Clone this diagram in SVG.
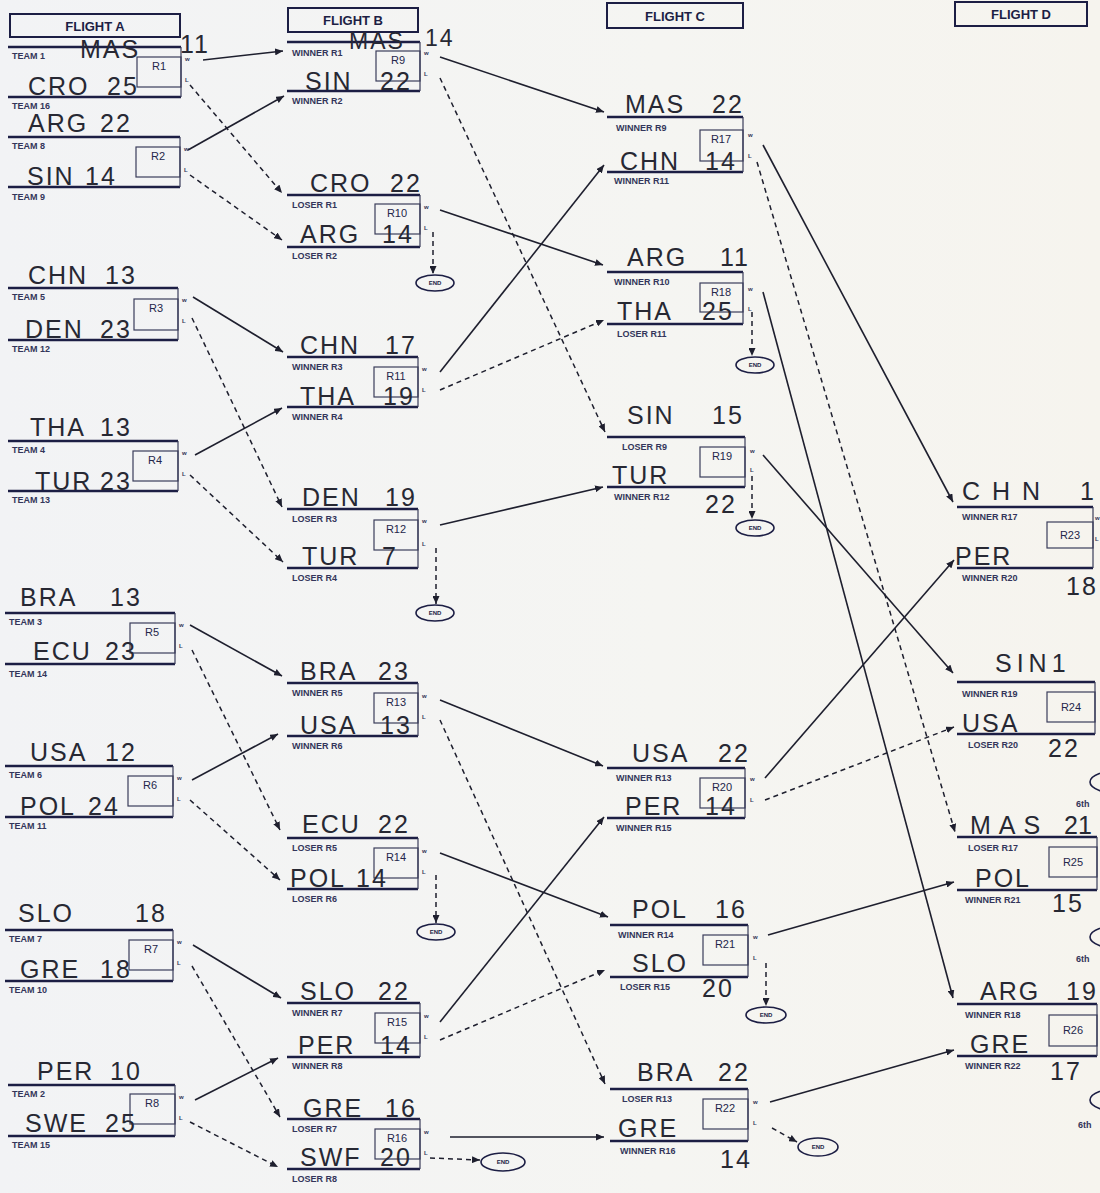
<svg xmlns="http://www.w3.org/2000/svg" width="1100" height="1193" viewBox="0 0 1100 1193">
<defs>
<linearGradient id="paper" x1="0" y1="0" x2="1" y2="0">
<stop offset="0" stop-color="#f2f3f5"/><stop offset="0.6" stop-color="#f5f5f2"/><stop offset="1" stop-color="#f6f4ee"/>
</linearGradient>
<marker id="ah" viewBox="0 0 8 7" refX="8" refY="3.5" markerWidth="8" markerHeight="7" markerUnits="userSpaceOnUse" orient="auto"><path d="M0,0 L8,3.5 L0,7 z" fill="#1e1f2e"/></marker>
<style>
.ln{stroke:#1c1e44;stroke-width:2.6}
.vr{stroke:#3a3c5a;stroke-width:1.2}
.bx{fill:none;stroke:#3a3c5a;stroke-width:1.2}
.hb{fill:none;stroke:#1c1e44;stroke-width:2}
.hdr{font-family:"Liberation Sans",Arial,sans-serif;font-weight:bold;font-size:13px;fill:#1c1e44;text-anchor:middle}
.rn{font-family:"Liberation Sans",Arial,sans-serif;font-size:11px;fill:#24264a;text-anchor:middle}
.lb{font-family:"Liberation Sans",Arial,sans-serif;font-weight:bold;font-size:9px;fill:#33355a}
.wl{font-family:"Liberation Sans",Arial,sans-serif;font-weight:bold;font-size:6px;fill:#33355a}
.hd{font-family:"Liberation Sans",Arial,sans-serif;font-size:25px;fill:#272833;letter-spacing:2px}
.six{font-family:"Liberation Sans",Arial,sans-serif;font-weight:bold;font-size:9px;fill:#33355a}
.end{fill:none;stroke:#1c1e44;stroke-width:1.6}
.et{font-family:"Liberation Sans",Arial,sans-serif;font-weight:bold;font-size:6px;fill:#1c1e44;text-anchor:middle}
.w{stroke:#1e1f2e;stroke-width:1.6;fill:none;marker-end:url(#ah)}
.l{stroke:#1e1f2e;stroke-width:1.5;fill:none;stroke-dasharray:5 4;marker-end:url(#ah)}
</style>
</defs>
<rect width="1100" height="1193" fill="url(#paper)"/>

<g id="headers">
<g id="flightA"><rect class="hb" x="10" y="14" width="170" height="23"/><text class="hdr" x="95" y="31">FLIGHT A</text></g>
<g id="flightB"><rect class="hb" x="288" y="8" width="130" height="24"/><text class="hdr" x="353" y="25">FLIGHT B</text></g>
<g id="flightC"><rect class="hb" x="607" y="3" width="136" height="25"/><text class="hdr" x="675" y="21">FLIGHT C</text></g>
<g id="flightD"><rect class="hb" x="955" y="2" width="132" height="24"/><text class="hdr" x="1021" y="19">FLIGHT D</text></g>
</g>

<g id="connectors">
<line class="w" x1="203" y1="60" x2="283" y2="51"/>
<line class="w" x1="188" y1="150" x2="284" y2="96"/>
<line class="w" x1="193" y1="297" x2="283" y2="352"/>
<line class="w" x1="195" y1="455" x2="282" y2="408"/>
<line class="w" x1="190" y1="625" x2="282" y2="676"/>
<line class="w" x1="192" y1="780" x2="278" y2="734"/>
<line class="w" x1="193" y1="945" x2="281" y2="998"/>
<line class="w" x1="195" y1="1100" x2="278" y2="1058"/>
<line class="w" x1="440" y1="57" x2="604" y2="112"/>
<line class="w" x1="440" y1="210" x2="603" y2="265"/>
<line class="w" x1="440" y1="372" x2="604" y2="165"/>
<line class="w" x1="440" y1="525" x2="603" y2="487"/>
<line class="w" x1="440" y1="700" x2="603" y2="766"/>
<line class="w" x1="440" y1="853" x2="608" y2="917"/>
<line class="w" x1="440" y1="1022" x2="604" y2="817"/>
<line class="w" x1="450" y1="1137" x2="604" y2="1137"/>
<line class="w" x1="763" y1="145" x2="953" y2="502"/>
<line class="w" x1="763" y1="292" x2="953" y2="998"/>
<line class="w" x1="763" y1="455" x2="953" y2="673"/>
<line class="w" x1="765" y1="778" x2="954" y2="560"/>
<line class="w" x1="768" y1="935" x2="954" y2="882"/>
<line class="w" x1="770" y1="1102" x2="954" y2="1050"/>
<line class="l" x1="190" y1="85" x2="282" y2="193"/>
<line class="l" x1="190" y1="175" x2="282" y2="240"/>
<line class="l" x1="192" y1="318" x2="282" y2="507"/>
<line class="l" x1="190" y1="475" x2="283" y2="562"/>
<line class="l" x1="192" y1="650" x2="280" y2="830"/>
<line class="l" x1="190" y1="800" x2="280" y2="880"/>
<line class="l" x1="192" y1="966" x2="280" y2="1117"/>
<line class="l" x1="190" y1="1122" x2="278" y2="1167"/>
<line class="l" x1="440" y1="78" x2="605" y2="432"/>
<line class="l" x1="440" y1="390" x2="604" y2="320"/>
<line class="l" x1="440" y1="720" x2="605" y2="1084"/>
<line class="l" x1="440" y1="1040" x2="605" y2="970"/>
<line class="l" x1="757" y1="162" x2="955" y2="832"/>
<line class="l" x1="765" y1="800" x2="954" y2="727"/>
<line class="l" x1="433" y1="232" x2="433" y2="274"/>
<line class="l" x1="436" y1="548" x2="436" y2="604"/>
<line class="l" x1="436" y1="875" x2="436" y2="923"/>
<line class="l" x1="430" y1="1158" x2="480" y2="1160"/>
<line class="l" x1="752" y1="312" x2="752" y2="356"/>
<line class="l" x1="752" y1="476" x2="752" y2="519"/>
<line class="l" x1="766" y1="963" x2="766" y2="1006"/>
<line class="l" x1="772" y1="1128" x2="797" y2="1142"/>
</g>

<g id="ends">
<g id="end10"><ellipse class="end" cx="435" cy="283" rx="19" ry="8"/><text class="et" x="435" y="285">END</text></g>
<g id="end12"><ellipse class="end" cx="435" cy="613" rx="19" ry="8"/><text class="et" x="435" y="615">END</text></g>
<g id="end14"><ellipse class="end" cx="436" cy="932" rx="19" ry="8"/><text class="et" x="436" y="934">END</text></g>
<g id="end16"><ellipse class="end" cx="503" cy="1162" rx="22" ry="9"/><text class="et" x="503" y="1164">END</text></g>
<g id="end18"><ellipse class="end" cx="755" cy="365" rx="19" ry="8"/><text class="et" x="755" y="367">END</text></g>
<g id="end19"><ellipse class="end" cx="755" cy="528" rx="19" ry="8"/><text class="et" x="755" y="530">END</text></g>
<g id="end21"><ellipse class="end" cx="766" cy="1015" rx="20" ry="8"/><text class="et" x="766" y="1017">END</text></g>
<g id="end22"><ellipse class="end" cx="818" cy="1147" rx="20" ry="9"/><text class="et" x="818" y="1149">END</text></g>
<g id="sixth1"><ellipse class="end" cx="1122" cy="782" rx="32" ry="12"/><text class="six" x="1076" y="807">6th</text></g>
<g id="sixth2"><ellipse class="end" cx="1122" cy="937" rx="32" ry="12"/><text class="six" x="1076" y="962">6th</text></g>
<g id="sixth3"><ellipse class="end" cx="1122" cy="1100" rx="32" ry="12"/><text class="six" x="1078" y="1128">6th</text></g>
</g>

<!-- FLIGHT A -->
<g id="R1">
<line class="ln" x1="8" y1="47" x2="181" y2="47"/><line class="ln" x1="8" y1="97" x2="181" y2="97"/><line class="vr" x1="181" y1="47" x2="181" y2="97"/>
<rect class="bx" x="137" y="57" width="44" height="30"/><text class="rn" x="159" y="70">R1</text>
<text class="lb" x="12" y="59">TEAM 1</text><text class="lb" x="12" y="109">TEAM 16</text>
<text class="wl" x="185" y="61">w</text><text class="wl" x="185" y="82">L</text>
<text class="hd" y="58"><tspan x="80">MAS</tspan><tspan x="180" y="53">11</tspan></text>
<text class="hd" y="95"><tspan x="28">CRO</tspan><tspan x="107">25</tspan></text>
</g>
<g id="R2">
<line class="ln" x1="8" y1="137" x2="180" y2="137"/><line class="ln" x1="8" y1="187" x2="180" y2="187"/><line class="vr" x1="180" y1="137" x2="180" y2="187"/>
<rect class="bx" x="136" y="147" width="44" height="30"/><text class="rn" x="158" y="160">R2</text>
<text class="lb" x="12" y="149">TEAM 8</text><text class="lb" x="12" y="200">TEAM 9</text>
<text class="wl" x="184" y="151">w</text><text class="wl" x="184" y="172">L</text>
<text class="hd" y="132"><tspan x="28">ARG</tspan><tspan x="100">22</tspan></text>
<text class="hd" y="185"><tspan x="27">SIN</tspan><tspan x="85">14</tspan></text>
</g>
<g id="R3">
<line class="ln" x1="8" y1="288" x2="178" y2="288"/><line class="ln" x1="8" y1="340" x2="178" y2="340"/><line class="vr" x1="178" y1="288" x2="178" y2="340"/>
<rect class="bx" x="134" y="299" width="44" height="31"/><text class="rn" x="156" y="312">R3</text>
<text class="lb" x="12" y="300">TEAM 5</text><text class="lb" x="12" y="352">TEAM 12</text>
<text class="wl" x="182" y="302">w</text><text class="wl" x="182" y="323">L</text>
<text class="hd" y="284"><tspan x="28">CHN</tspan><tspan x="105">13</tspan></text>
<text class="hd" y="338"><tspan x="25">DEN</tspan><tspan x="100">23</tspan></text>
</g>
<g id="R4">
<line class="ln" x1="8" y1="441" x2="178" y2="441"/><line class="ln" x1="8" y1="491" x2="178" y2="491"/><line class="vr" x1="178" y1="441" x2="178" y2="491"/>
<rect class="bx" x="133" y="451" width="45" height="30"/><text class="rn" x="155" y="464">R4</text>
<text class="lb" x="12" y="453">TEAM 4</text><text class="lb" x="12" y="503">TEAM 13</text>
<text class="wl" x="182" y="455">w</text><text class="wl" x="182" y="476">L</text>
<text class="hd" y="436"><tspan x="30">THA</tspan><tspan x="100">13</tspan></text>
<text class="hd" y="490"><tspan x="35">TUR</tspan><tspan x="100">23</tspan></text>
</g>
<g id="R5">
<line class="ln" x1="5" y1="613" x2="175" y2="613"/><line class="ln" x1="5" y1="664" x2="175" y2="664"/><line class="vr" x1="175" y1="613" x2="175" y2="664"/>
<rect class="bx" x="130" y="623" width="45" height="30"/><text class="rn" x="152" y="636">R5</text>
<text class="lb" x="9" y="625">TEAM 3</text><text class="lb" x="9" y="677">TEAM 14</text>
<text class="wl" x="179" y="627">w</text><text class="wl" x="179" y="648">L</text>
<text class="hd" y="606"><tspan x="20">BRA</tspan><tspan x="110">13</tspan></text>
<text class="hd" y="660"><tspan x="33">ECU</tspan><tspan x="105">23</tspan></text>
</g>
<g id="R6">
<line class="ln" x1="5" y1="766" x2="173" y2="766"/><line class="ln" x1="5" y1="817" x2="173" y2="817"/><line class="vr" x1="173" y1="766" x2="173" y2="817"/>
<rect class="bx" x="128" y="776" width="45" height="30"/><text class="rn" x="150" y="789">R6</text>
<text class="lb" x="9" y="778">TEAM 6</text><text class="lb" x="9" y="829">TEAM 11</text>
<text class="wl" x="177" y="780">w</text><text class="wl" x="177" y="801">L</text>
<text class="hd" y="761"><tspan x="30">USA</tspan><tspan x="105">12</tspan></text>
<text class="hd" y="815"><tspan x="20">POL</tspan><tspan x="88">24</tspan></text>
</g>
<g id="R7">
<line class="ln" x1="5" y1="930" x2="173" y2="930"/><line class="ln" x1="5" y1="981" x2="173" y2="981"/><line class="vr" x1="173" y1="930" x2="173" y2="981"/>
<rect class="bx" x="129" y="940" width="44" height="30"/><text class="rn" x="151" y="953">R7</text>
<text class="lb" x="9" y="942">TEAM 7</text><text class="lb" x="9" y="993">TEAM 10</text>
<text class="wl" x="177" y="944">w</text><text class="wl" x="177" y="965">L</text>
<text class="hd" y="922"><tspan x="18">SLO</tspan><tspan x="135">18</tspan></text>
<text class="hd" y="978"><tspan x="20">GRE</tspan><tspan x="100">18</tspan></text>
</g>
<g id="R8">
<line class="ln" x1="8" y1="1085" x2="175" y2="1085"/><line class="ln" x1="8" y1="1136" x2="175" y2="1136"/><line class="vr" x1="175" y1="1085" x2="175" y2="1136"/>
<rect class="bx" x="130" y="1094" width="45" height="30"/><text class="rn" x="152" y="1107">R8</text>
<text class="lb" x="12" y="1097">TEAM 2</text><text class="lb" x="12" y="1148">TEAM 15</text>
<text class="wl" x="179" y="1099">w</text><text class="wl" x="179" y="1120">L</text>
<text class="hd" y="1080"><tspan x="37">PER</tspan><tspan x="110">10</tspan></text>
<text class="hd" y="1132"><tspan x="25">SWE</tspan><tspan x="105">25</tspan></text>
</g>

<!-- FLIGHT B -->
<g id="R9">
<line class="ln" x1="287" y1="42" x2="420" y2="42"/><line class="ln" x1="287" y1="91" x2="420" y2="91"/><line class="vr" x1="420" y1="42" x2="420" y2="91"/>
<rect class="bx" x="376" y="51" width="44" height="30"/><text class="rn" x="398" y="64">R9</text>
<text class="lb" x="292" y="56">WINNER R1</text><text class="lb" x="292" y="104">WINNER R2</text>
<text class="wl" x="424" y="55">w</text><text class="wl" x="424" y="76">L</text>
<text class="hd" y="49" style="font-size:23px"><tspan x="349">MAS</tspan><tspan x="425" y="46">14</tspan></text>
<text class="hd" y="90"><tspan x="305">SIN</tspan><tspan x="380">22</tspan></text>
</g>
<g id="R10">
<line class="ln" x1="287" y1="195" x2="420" y2="195"/><line class="ln" x1="287" y1="247" x2="420" y2="247"/><line class="vr" x1="420" y1="195" x2="420" y2="247"/>
<rect class="bx" x="375" y="204" width="45" height="30"/><text class="rn" x="397" y="217">R10</text>
<text class="lb" x="292" y="208">LOSER R1</text><text class="lb" x="292" y="259">LOSER R2</text>
<text class="wl" x="424" y="209">w</text><text class="wl" x="424" y="230">L</text>
<text class="hd" y="192"><tspan x="310">CRO</tspan><tspan x="390">22</tspan></text>
<text class="hd" y="243"><tspan x="300">ARG</tspan><tspan x="382">14</tspan></text>
</g>
<g id="R11">
<line class="ln" x1="287" y1="357" x2="418" y2="357"/><line class="ln" x1="287" y1="407" x2="418" y2="407"/><line class="vr" x1="418" y1="357" x2="418" y2="407"/>
<rect class="bx" x="374" y="367" width="44" height="30"/><text class="rn" x="396" y="380">R11</text>
<text class="lb" x="292" y="370">WINNER R3</text><text class="lb" x="292" y="420">WINNER R4</text>
<text class="wl" x="422" y="371">w</text><text class="wl" x="422" y="392">L</text>
<text class="hd" y="354"><tspan x="300">CHN</tspan><tspan x="385">17</tspan></text>
<text class="hd" y="405"><tspan x="300">THA</tspan><tspan x="383">19</tspan></text>
</g>
<g id="R12">
<line class="ln" x1="287" y1="509" x2="418" y2="509"/><line class="ln" x1="287" y1="568" x2="418" y2="568"/><line class="vr" x1="418" y1="509" x2="418" y2="568"/>
<rect class="bx" x="374" y="520" width="44" height="30"/><text class="rn" x="396" y="533">R12</text>
<text class="lb" x="292" y="522">LOSER R3</text><text class="lb" x="292" y="581">LOSER R4</text>
<text class="wl" x="422" y="523">w</text><text class="wl" x="422" y="546">L</text>
<text class="hd" y="506"><tspan x="302">DEN</tspan><tspan x="385">19</tspan></text>
<text class="hd" y="565"><tspan x="302">TUR</tspan><tspan x="382">7</tspan></text>
</g>
<g id="R13">
<line class="ln" x1="287" y1="683" x2="418" y2="683"/><line class="ln" x1="287" y1="736" x2="418" y2="736"/><line class="vr" x1="418" y1="683" x2="418" y2="736"/>
<rect class="bx" x="374" y="693" width="44" height="30"/><text class="rn" x="396" y="706">R13</text>
<text class="lb" x="292" y="696">WINNER R5</text><text class="lb" x="292" y="749">WINNER R6</text>
<text class="wl" x="422" y="698">w</text><text class="wl" x="422" y="719">L</text>
<text class="hd" y="680"><tspan x="300">BRA</tspan><tspan x="378">23</tspan></text>
<text class="hd" y="734"><tspan x="300">USA</tspan><tspan x="380">13</tspan></text>
</g>
<g id="R14">
<line class="ln" x1="287" y1="838" x2="418" y2="838"/><line class="ln" x1="287" y1="889" x2="418" y2="889"/><line class="vr" x1="418" y1="838" x2="418" y2="889"/>
<rect class="bx" x="374" y="848" width="44" height="30"/><text class="rn" x="396" y="861">R14</text>
<text class="lb" x="292" y="851">LOSER R5</text><text class="lb" x="292" y="902">LOSER R6</text>
<text class="wl" x="422" y="853">w</text><text class="wl" x="422" y="874">L</text>
<text class="hd" y="833"><tspan x="302">ECU</tspan><tspan x="378">22</tspan></text>
<text class="hd" y="887"><tspan x="290">POL</tspan><tspan x="356">14</tspan></text>
</g>
<g id="R15">
<line class="ln" x1="287" y1="1003" x2="420" y2="1003"/><line class="ln" x1="287" y1="1057" x2="420" y2="1057"/><line class="vr" x1="420" y1="1003" x2="420" y2="1057"/>
<rect class="bx" x="375" y="1013" width="45" height="30"/><text class="rn" x="397" y="1026">R15</text>
<text class="lb" x="292" y="1016">WINNER R7</text><text class="lb" x="292" y="1069">WINNER R8</text>
<text class="wl" x="424" y="1018">w</text><text class="wl" x="424" y="1039">L</text>
<text class="hd" y="1000"><tspan x="300">SLO</tspan><tspan x="378">22</tspan></text>
<text class="hd" y="1054"><tspan x="298">PER</tspan><tspan x="380">14</tspan></text>
</g>
<g id="R16">
<line class="ln" x1="287" y1="1119" x2="420" y2="1119"/><line class="ln" x1="287" y1="1169" x2="420" y2="1169"/><line class="vr" x1="420" y1="1119" x2="420" y2="1169"/>
<rect class="bx" x="375" y="1129" width="45" height="30"/><text class="rn" x="397" y="1142">R16</text>
<text class="lb" x="292" y="1132">LOSER R7</text><text class="lb" x="292" y="1182">LOSER R8</text>
<text class="wl" x="424" y="1134">w</text><text class="wl" x="424" y="1155">L</text>
<text class="hd" y="1117"><tspan x="303">GRE</tspan><tspan x="385">16</tspan></text>
<text class="hd" y="1166"><tspan x="300">SWF</tspan><tspan x="380">20</tspan></text>
</g>

<!-- FLIGHT C -->
<g id="R17">
<line class="ln" x1="607" y1="117" x2="743" y2="117"/><line class="ln" x1="607" y1="172" x2="743" y2="172"/><line class="vr" x1="743" y1="117" x2="743" y2="172"/>
<rect class="bx" x="700" y="130" width="43" height="31"/><text class="rn" x="721" y="143">R17</text>
<text class="lb" x="616" y="131">WINNER R9</text><text class="lb" x="614" y="184">WINNER R11</text>
<text class="wl" x="748" y="137">w</text><text class="wl" x="748" y="158">L</text>
<text class="hd" y="113"><tspan x="625">MAS</tspan><tspan x="712">22</tspan></text>
<text class="hd" y="170"><tspan x="620">CHN</tspan><tspan x="705">14</tspan></text>
</g>
<g id="R18">
<line class="ln" x1="607" y1="272" x2="743" y2="272"/><line class="ln" x1="607" y1="324" x2="743" y2="324"/><line class="vr" x1="743" y1="272" x2="743" y2="324"/>
<rect class="bx" x="700" y="283" width="43" height="29"/><text class="rn" x="721" y="296">R18</text>
<text class="lb" x="614" y="285">WINNER R10</text><text class="lb" x="617" y="337">LOSER R11</text>
<text class="wl" x="748" y="291">w</text><text class="wl" x="748" y="311">L</text>
<text class="hd" y="266"><tspan x="627">ARG</tspan><tspan x="720">11</tspan></text>
<text class="hd" y="320"><tspan x="617">THA</tspan><tspan x="702">25</tspan></text>
</g>
<g id="R19">
<line class="ln" x1="607" y1="437" x2="745" y2="437"/><line class="ln" x1="607" y1="487" x2="745" y2="487"/><line class="vr" x1="745" y1="437" x2="745" y2="487"/>
<rect class="bx" x="700" y="447" width="45" height="30"/><text class="rn" x="722" y="460">R19</text>
<text class="lb" x="622" y="450">LOSER R9</text><text class="lb" x="614" y="500">WINNER R12</text>
<text class="wl" x="750" y="453">w</text><text class="wl" x="750" y="472">L</text>
<text class="hd" y="424"><tspan x="627">SIN</tspan><tspan x="712">15</tspan></text>
<text class="hd" y="484"><tspan x="612">TUR</tspan><tspan x="705" y="513">22</tspan></text>
</g>
<g id="R20">
<line class="ln" x1="607" y1="768" x2="745" y2="768"/><line class="ln" x1="607" y1="818" x2="745" y2="818"/><line class="vr" x1="745" y1="768" x2="745" y2="818"/>
<rect class="bx" x="700" y="778" width="45" height="30"/><text class="rn" x="722" y="791">R20</text>
<text class="lb" x="616" y="781">WINNER R13</text><text class="lb" x="616" y="831">WINNER R15</text>
<text class="wl" x="750" y="781">w</text><text class="wl" x="750" y="802">L</text>
<text class="hd" y="762"><tspan x="632">USA</tspan><tspan x="718">22</tspan></text>
<text class="hd" y="815"><tspan x="625">PER</tspan><tspan x="705">14</tspan></text>
</g>
<g id="R21">
<line class="ln" x1="610" y1="925" x2="748" y2="925"/><line class="ln" x1="610" y1="977" x2="748" y2="977"/><line class="vr" x1="748" y1="925" x2="748" y2="977"/>
<rect class="bx" x="703" y="935" width="45" height="30"/><text class="rn" x="725" y="948">R21</text>
<text class="lb" x="618" y="938">WINNER R14</text><text class="lb" x="620" y="990">LOSER R15</text>
<text class="wl" x="753" y="939">w</text><text class="wl" x="753" y="960">L</text>
<text class="hd" y="918"><tspan x="632">POL</tspan><tspan x="715">16</tspan></text>
<text class="hd" y="972"><tspan x="632">SLO</tspan><tspan x="702" y="997">20</tspan></text>
</g>
<g id="R22">
<line class="ln" x1="610" y1="1089" x2="748" y2="1089"/><line class="ln" x1="610" y1="1141" x2="748" y2="1141"/><line class="vr" x1="748" y1="1089" x2="748" y2="1141"/>
<rect class="bx" x="703" y="1099" width="45" height="30"/><text class="rn" x="725" y="1112">R22</text>
<text class="lb" x="622" y="1102">LOSER R13</text><text class="lb" x="620" y="1154">WINNER R16</text>
<text class="wl" x="753" y="1104">w</text><text class="wl" x="753" y="1125">L</text>
<text class="hd" y="1081"><tspan x="637">BRA</tspan><tspan x="718">22</tspan></text>
<text class="hd" y="1137"><tspan x="618">GRE</tspan><tspan x="720" y="1168">14</tspan></text>
</g>

<!-- FLIGHT D -->
<g id="R23">
<line class="ln" x1="957" y1="507" x2="1093" y2="507"/><line class="ln" x1="957" y1="568" x2="1093" y2="568"/><line class="vr" x1="1093" y1="507" x2="1093" y2="568"/>
<rect class="bx" x="1047" y="522" width="46" height="26"/><text class="rn" x="1070" y="539">R23</text>
<text class="lb" x="962" y="520">WINNER R17</text><text class="lb" x="962" y="581">WINNER R20</text>
<text class="wl" x="1095" y="520">w</text><text class="wl" x="1095" y="541">L</text>
<text class="hd" y="500"><tspan x="962" style="letter-spacing:12px">CHN</tspan><tspan x="1080" style="letter-spacing:0px">1</tspan></text>
<text class="hd" y="565"><tspan x="955">PER</tspan><tspan x="1066" y="595">18</tspan></text>
</g>
<g id="R24">
<line class="ln" x1="957" y1="682" x2="1095" y2="682"/><line class="ln" x1="957" y1="734" x2="1095" y2="734"/><line class="vr" x1="1095" y1="682" x2="1095" y2="734"/>
<rect class="bx" x="1047" y="692" width="48" height="30"/><text class="rn" x="1071" y="711">R24</text>
<text class="lb" x="962" y="697">WINNER R19</text><text class="lb" x="968" y="748">LOSER R20</text>
<text class="hd" y="672" style="letter-spacing:5px"><tspan x="995">SIN1</tspan></text>
<text class="hd" y="732"><tspan x="962">USA</tspan><tspan x="1048" y="757">22</tspan></text>
</g>
<g id="R25">
<line class="ln" x1="957" y1="837" x2="1097" y2="837"/><line class="ln" x1="957" y1="890" x2="1097" y2="890"/><line class="vr" x1="1097" y1="837" x2="1097" y2="890"/>
<rect class="bx" x="1049" y="847" width="48" height="30"/><text class="rn" x="1073" y="866">R25</text>
<text class="lb" x="968" y="851">LOSER R17</text><text class="lb" x="965" y="903">WINNER R21</text>
<text class="hd" y="834"><tspan x="970" style="letter-spacing:8px">MAS</tspan><tspan x="1064" style="letter-spacing:0px">21</tspan></text>
<text class="hd" y="887"><tspan x="975">POL</tspan><tspan x="1052" y="912">15</tspan></text>
</g>
<g id="R26">
<line class="ln" x1="957" y1="1004" x2="1097" y2="1004"/><line class="ln" x1="957" y1="1056" x2="1097" y2="1056"/><line class="vr" x1="1097" y1="1004" x2="1097" y2="1056"/>
<rect class="bx" x="1049" y="1015" width="48" height="31"/><text class="rn" x="1073" y="1034">R26</text>
<text class="lb" x="965" y="1018">WINNER R18</text><text class="lb" x="965" y="1069">WINNER R22</text>
<text class="hd" y="1000"><tspan x="980">ARG</tspan><tspan x="1066">19</tspan></text>
<text class="hd" y="1053"><tspan x="970">GRE</tspan><tspan x="1050" y="1080">17</tspan></text>
</g>
</svg>
